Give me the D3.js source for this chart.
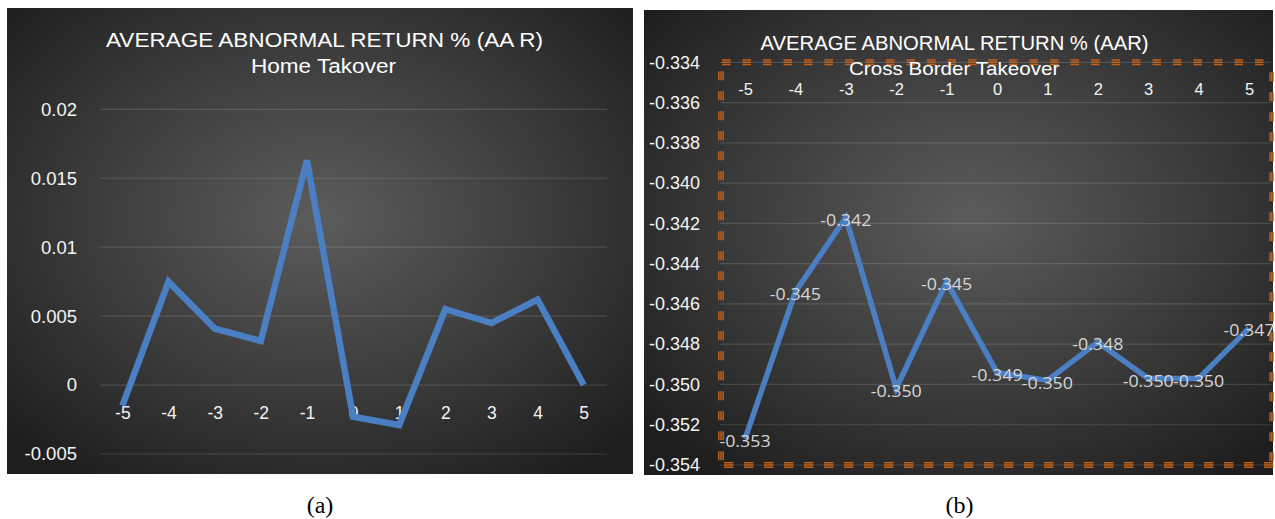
<!DOCTYPE html>
<html>
<head>
<meta charset="utf-8">
<script src="https://cdn.jsdelivr.net/npm/d3@7"></script>
<style>
  html, body { margin: 0; padding: 0; background: #ffffff; }
  svg { display: block; }
</style>
</head>
<body>
<svg id="chart" width="1275" height="519"></svg>
<script>
// ---------------- DATA ----------------
const categories = ["-5", "-4", "-3", "-2", "-1", "0", "1", "2", "3", "4", "5"];
const homeAAR  = [-0.0015, 0.0075, 0.0041, 0.0032, 0.0163, -0.0023, -0.0029, 0.0055, 0.0045, 0.0062, 0.0000];
const crossAAR = [-0.3527, -0.3454, -0.3417, -0.3502, -0.3449, -0.3494, -0.3498, -0.3479, -0.3497, -0.3497, -0.3472];
const homeTicks  = [-0.005, 0, 0.005, 0.01, 0.015, 0.02];
const homeTickLabels = ["-0.005", "0", "0.005", "0.01", "0.015", "0.02"];
const crossTicks = [-0.354, -0.352, -0.350, -0.348, -0.346, -0.344, -0.342, -0.340, -0.338, -0.336, -0.334];
const crossTickLabels = ["-0.354", "-0.352", "-0.350", "-0.348", "-0.346", "-0.344", "-0.342", "-0.340", "-0.338", "-0.336", "-0.334"];
const titles = ["AVERAGE ABNORMAL RETURN % (AA R)", "AVERAGE ABNORMAL RETURN % (AAR)"];
const subtitles = ["Home Takover", "Cross Border Takeover"];
const captions = ["(a)", "(b)"];

// ---------------- SETUP ----------------
const svg = d3.select("#chart");
const FONT = "'Liberation Sans', Arial, Helvetica, sans-serif";
const LINE = "#4a7fc3";
const ORANGE = "#c0621c";

const defs = svg.append("defs");
function radial(id, cx, cy, r) {
  const g = defs.append("radialGradient").attr("id", id)
    .attr("cx", cx).attr("cy", cy).attr("r", r);
  g.append("stop").attr("offset", "0%").attr("stop-color", "#5c5c5c");
  g.append("stop").attr("offset", "55%").attr("stop-color", "#3b3b3b");
  g.append("stop").attr("offset", "100%").attr("stop-color", "#1e1e1e");
}
radial("bgL", "50%", "45%", "68%");
radial("bgR", "52%", "45%", "68%");

function label(g, x, y, txt, opts) {
  return g.append("text")
    .attr("transform", `translate(${x},${y}) scale(${opts.sx || 1},1)`)
    .attr("text-anchor", opts.anchor || "middle")
    .attr("dominant-baseline", "central")
    .attr("font-family", opts.family || FONT)
    .attr("font-size", opts.size)
    .attr("fill", opts.fill || "#ffffff")
    .text(txt);
}

// ---------------- PANEL (a) ----------------
const L = svg.append("g");
L.append("rect").attr("x", 7).attr("y", 8).attr("width", 626).attr("height", 466)
  .attr("fill", "url(#bgL)");

const xL = d3.scalePoint().domain(categories).range([122.4, 583.7]);
const yL = d3.scaleLinear().domain([-0.005, 0.02]).range([454, 109.3]);

// gridlines
L.append("g").selectAll("line").data(homeTicks).join("line")
  .attr("x1", 100).attr("x2", 607)
  .attr("y1", d => yL(d)).attr("y2", d => yL(d))
  .attr("stroke", "#ffffff").attr("stroke-opacity", 0.13).attr("stroke-width", 1.2);

// y axis labels
const yAxisL = L.append("g").attr("transform", "translate(100,0)")
  .call(d3.axisLeft(yL).tickValues(homeTicks).tickSize(0).tickPadding(23)
    .tickFormat((d, i) => homeTickLabels[i]));
yAxisL.select(".domain").remove();
yAxisL.selectAll("text").attr("font-family", FONT).attr("font-size", 18.5)
  .attr("fill", "#f4f4f4");

// x axis labels (near zero line)
const xAxisL = L.append("g")
  .call(d3.axisBottom(xL).tickSize(0).tickPadding(0));
xAxisL.select(".domain").remove();
xAxisL.selectAll("text").attr("y", 412.5).attr("dy", "0.36em")
  .attr("font-family", FONT).attr("font-size", 17.5).attr("fill", "#f4f4f4");

// line
L.append("path").datum(homeAAR)
  .attr("fill", "none").attr("stroke", LINE).attr("stroke-width", 6.5)
  .attr("stroke-linejoin", "miter")
  .attr("d", d3.line().x((d, i) => xL(categories[i])).y(d => yL(d)));

// titles
L.append("text").attr("x", 324.5).attr("y", 39).attr("text-anchor", "middle")
  .attr("dominant-baseline", "central").attr("font-family", FONT).attr("font-size", 20.5)
  .attr("fill", "#ffffff").attr("textLength", 437).attr("lengthAdjust", "spacingAndGlyphs")
  .text(titles[0]);
L.append("text").attr("x", 323.5).attr("y", 66).attr("text-anchor", "middle")
  .attr("dominant-baseline", "central").attr("font-family", FONT).attr("font-size", 20)
  .attr("fill", "#ffffff").attr("textLength", 145).attr("lengthAdjust", "spacingAndGlyphs")
  .text(subtitles[0]);

// ---------------- PANEL (b) ----------------
const R = svg.append("g");
R.append("rect").attr("x", 644).attr("y", 10).attr("width", 629).attr("height", 465)
  .attr("fill", "url(#bgR)");

const xR = d3.scalePoint().domain(categories).range([745, 1249]);
const yR = d3.scaleLinear().domain([-0.354, -0.334]).range([465, 62.3]);

// gridlines
R.append("g").selectAll("line").data(crossTicks).join("line")
  .attr("x1", 720).attr("x2", 1271)
  .attr("y1", d => yR(d)).attr("y2", d => yR(d))
  .attr("stroke", "#ffffff").attr("stroke-opacity", 0.13).attr("stroke-width", 1.2);

// orange compound dashed border (three thin stripes per dash)
const bx0 = 721, bx1 = 1271.5, by0 = yR(-0.334), by1 = yR(-0.354);
const stripes = [-2.2, 0, 2.2];
stripes.forEach(o => {
  R.append("line").attr("x1", bx0 + 1).attr("x2", bx1 + 2).attr("y1", by0 + o).attr("y2", by0 + o)
    .attr("stroke", ORANGE).attr("stroke-width", 1.5).attr("stroke-dasharray", "8.5,12");
  R.append("line").attr("x1", bx0 + 3).attr("x2", bx1 + 2).attr("y1", by1 + o).attr("y2", by1 + o)
    .attr("stroke", ORANGE).attr("stroke-width", 1.5).attr("stroke-dasharray", "9.5,10.5");
  R.append("line").attr("x1", bx0 + o).attr("x2", bx0 + o).attr("y1", by0 + 9).attr("y2", by1 + 3)
    .attr("stroke", ORANGE).attr("stroke-width", 1.5).attr("stroke-dasharray", "9,11");
  R.append("line").attr("x1", bx1 + o * 0.7).attr("x2", bx1 + o * 0.7).attr("y1", by0 + 10).attr("y2", by1 + 3)
    .attr("stroke", ORANGE).attr("stroke-width", 1.3).attr("stroke-dasharray", "9,11");
});

// y axis labels
const yAxisR = R.append("g").attr("transform", "translate(720,0)")
  .call(d3.axisLeft(yR).tickValues(crossTicks).tickSize(0).tickPadding(20)
    .tickFormat((d, i) => crossTickLabels[i]));
yAxisR.select(".domain").remove();
yAxisR.selectAll("text").attr("font-family", FONT).attr("font-size", 18)
  .attr("fill", "#f4f4f4");

// x axis labels on top
const xAxisR = R.append("g")
  .call(d3.axisTop(xR).tickSize(0).tickPadding(0));
xAxisR.select(".domain").remove();
xAxisR.selectAll("text").attr("y", 89).attr("dy", "0.36em")
  .attr("font-family", FONT).attr("font-size", 16.5).attr("fill", "#f4f4f4");

// line
R.append("path").datum(crossAAR)
  .attr("fill", "none").attr("stroke", LINE).attr("stroke-width", 5.5)
  .attr("stroke-linejoin", "miter")
  .attr("d", d3.line().x((d, i) => xR(categories[i])).y(d => yR(d)));

// data labels centred on points
const dl = R.append("g");
crossAAR.forEach((v, i) => {
  label(dl, xR(categories[i]), yR(v) + 2, v.toFixed(3), {
    size: 16.5, fill: "#d6d6d6", family: "'Open Sans', 'Liberation Sans', sans-serif", sx: 1.08
  });
});

// titles
R.append("text").attr("x", 954.6).attr("y", 42.7).attr("text-anchor", "middle")
  .attr("dominant-baseline", "central").attr("font-family", FONT).attr("font-size", 19.5)
  .attr("fill", "#ffffff").attr("textLength", 388).attr("lengthAdjust", "spacingAndGlyphs")
  .text(titles[1]);
R.append("text").attr("x", 954.2).attr("y", 68.3).attr("text-anchor", "middle")
  .attr("dominant-baseline", "central").attr("font-family", FONT).attr("font-size", 18.5)
  .attr("fill", "#ffffff").attr("textLength", 210.5).attr("lengthAdjust", "spacingAndGlyphs")
  .text(subtitles[1]);

// ---------------- CAPTIONS ----------------
svg.append("text").attr("x", 320).attr("y", 505).attr("text-anchor", "middle")
  .attr("dominant-baseline", "central")
  .attr("font-family", "'Liberation Serif', 'DejaVu Serif', serif").attr("font-size", 24)
  .attr("fill", "#000000").text(captions[0]);
svg.append("text").attr("x", 959.5).attr("y", 505).attr("text-anchor", "middle")
  .attr("dominant-baseline", "central")
  .attr("font-family", "'Liberation Serif', 'DejaVu Serif', serif").attr("font-size", 24)
  .attr("fill", "#000000").text(captions[1]);
</script>
</body>
</html>
